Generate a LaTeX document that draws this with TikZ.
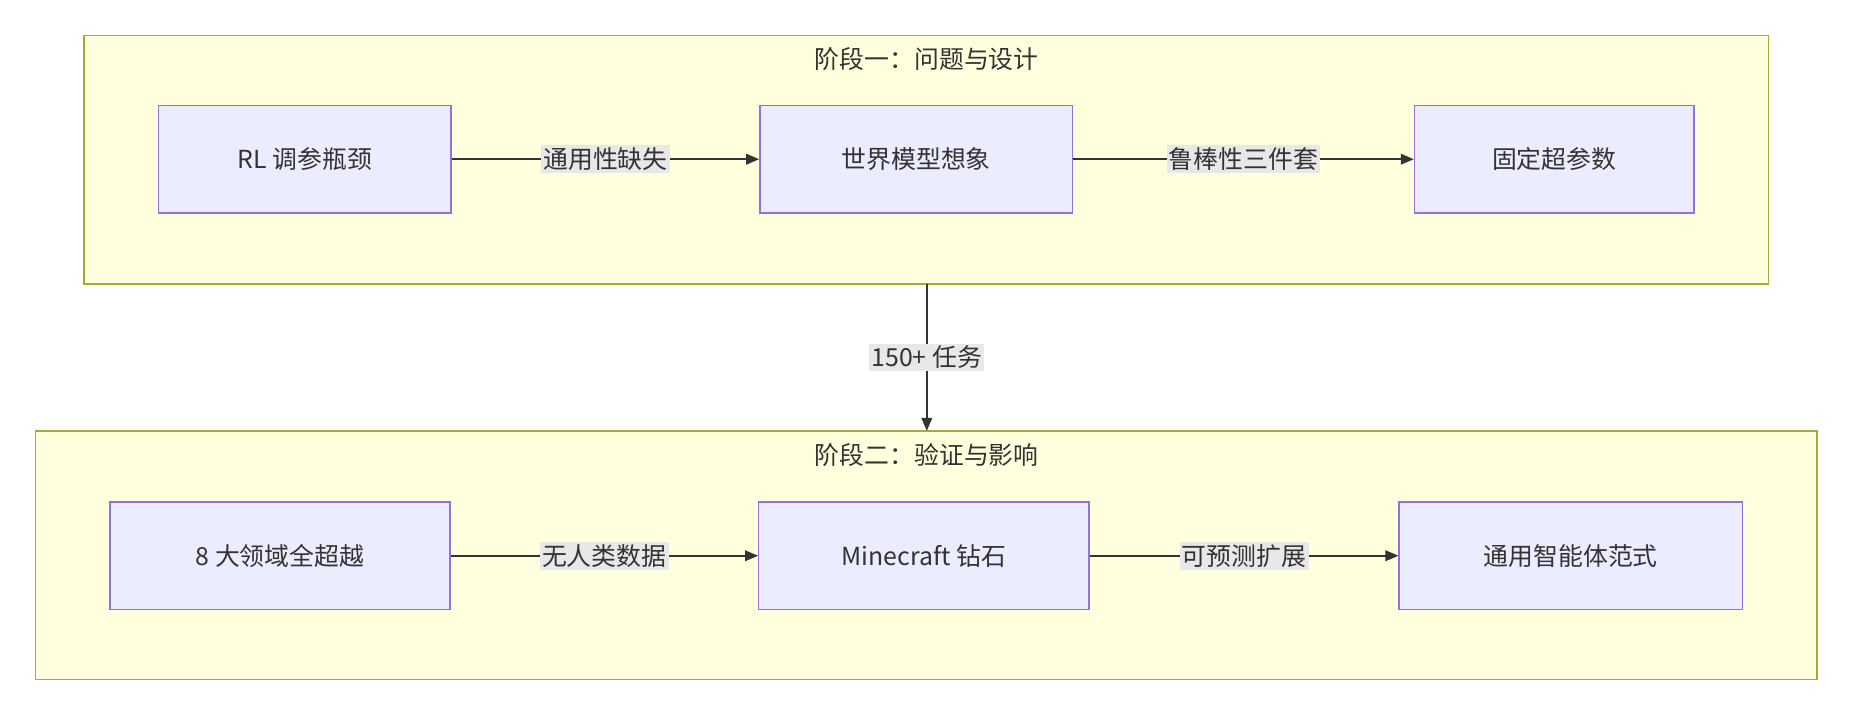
\documentclass[tikz,border=0pt]{standalone}
\usepackage{fontspec}
\setmainfont{Noto Sans CJK SC}
\usetikzlibrary{arrows.meta,positioning}
\definecolor{clfill}{HTML}{FFFFDE}
\definecolor{cldraw}{HTML}{AAAA33}
\definecolor{ndfill}{HTML}{ECECFF}
\definecolor{nddraw}{HTML}{9370DB}
\definecolor{edge}{HTML}{333333}
\definecolor{lblbg}{HTML}{E8E8E8}

\begin{document}
\begin{tikzpicture}[
  x=1pt, y=-1pt,
  every node/.style={font=\fontsize{21}{25}\selectfont, text=edge},
  cluster/.style={rectangle, draw=cldraw, fill=clfill, line width=1.2pt},
  box/.style={rectangle, draw=nddraw, fill=ndfill, line width=1.2pt, minimum height=91pt, inner sep=0pt},
  lbl/.style={fill=lblbg, inner sep=2pt},
  arrow/.style={-{Triangle[length=11pt,width=9pt]}, draw=edge, line width=1.3pt}
]
\useasboundingbox (0,0) rectangle (1568,605);

% Clusters
\draw[cluster] (71,30) rectangle (1494,240);
\node (t1) at (783,50) {阶段一：问题与设计};
\draw[cluster] (30,364) rectangle (1535,574);
\node (t2) at (783,384) {阶段二：验证与影响};

% Stage one
\node[box, minimum width=247pt] (rl) at (257.5,134.5) {RL 调参瓶颈};
\node[box, minimum width=264pt] (wm) at (774,134.5) {世界模型想象};
\node[box, minimum width=236pt] (hp) at (1313,134.5) {固定超参数};

% Stage two
\node[box, minimum width=287pt] (dom) at (236.5,469.5) {8 大领域全超越};
\node[box, minimum width=279pt] (mc) at (780.5,469.5) {Minecraft 钻石};
\node[box, minimum width=290pt] (ag) at (1327,469.5) {通用智能体范式};

% Arrows
\draw[arrow] (rl) -- node[lbl] {通用性缺失} (wm);
\draw[arrow] (wm) -- node[lbl] {鲁棒性三件套} (hp);
\draw[arrow] (dom) -- node[lbl] {无人类数据} (mc);
\draw[arrow] (mc) -- node[lbl] {可预测扩展} (ag);
\coordinate (s1) at (783,240);
\coordinate (s2) at (783,364);
\draw[arrow] (s1) -- node[lbl, pos=0.5] {150+ 任务} (s2);
\end{tikzpicture}
\end{document}
